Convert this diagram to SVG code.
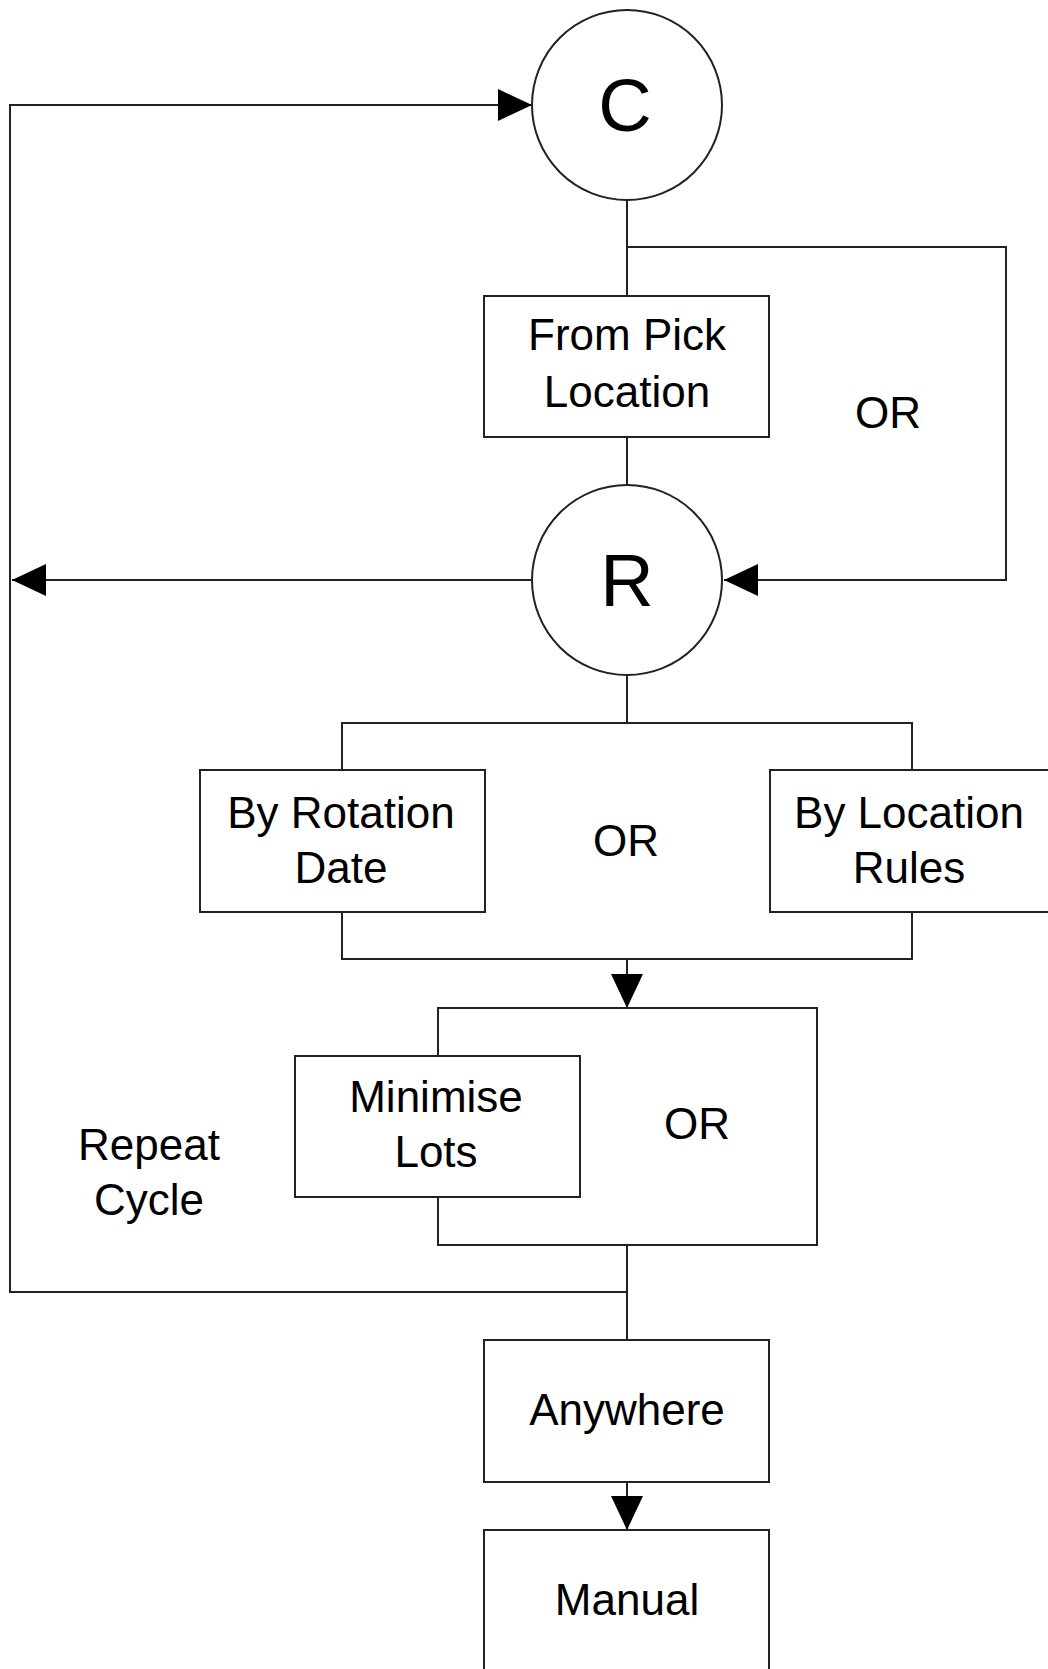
<svg xmlns="http://www.w3.org/2000/svg" width="1048" height="1669" viewBox="0 0 1048 1669">
<style>
.shape{fill:#fff;stroke:#222;stroke-width:2}
.conn{fill:none;stroke:#222;stroke-width:2}
.t{font-family:"Liberation Sans",Arial,sans-serif;font-size:44px;fill:#000;text-anchor:middle}
.big{font-size:74px}
</style>
<defs>
<marker id="arr" viewBox="0 0 34 32" refX="34" refY="16" markerWidth="34" markerHeight="32" orient="auto" markerUnits="userSpaceOnUse">
<path d="M0,0 L34,16 L0,32 z" fill="#000"/>
</marker>
</defs>
<rect width="1048" height="1669" fill="#fff"/>
<g id="connectors">
<path class="conn" d="M627,1292 H10 V105 H532" marker-end="url(#arr)"/>
<path class="conn" d="M627,200 V296"/>
<path class="conn" d="M627,247 H1006 V580 H724" marker-end="url(#arr)"/>
<path class="conn" d="M627,437 V485"/>
<path class="conn" d="M532,580 H12" marker-end="url(#arr)"/>
<path class="conn" d="M627,675 V723"/>
<path class="conn" d="M342,770 V723 H912 V770"/>
<path class="conn" d="M342,912 V959 H912 V912"/>
<path class="conn" d="M627,959 V1008" marker-end="url(#arr)"/>
<path class="conn" d="M627,1245 V1340"/>
<path class="conn" d="M627,1482 V1530" marker-end="url(#arr)"/>
</g>
<g id="node-C">
<circle class="shape" cx="627" cy="105" r="95"/>
<text class="t big" x="625" y="131">C</text>
</g>
<g id="node-from-pick">
<rect class="shape" x="484" y="296" width="285" height="141"/>
<text class="t" x="627" y="350">From Pick</text>
<text class="t" x="627" y="407">Location</text>
</g>
<g id="label-or-1">
<text class="t" x="888" y="428">OR</text>
</g>
<g id="node-R">
<circle class="shape" cx="627" cy="580" r="95"/>
<text class="t big" x="627" y="606">R</text>
</g>
<g id="node-rotation">
<rect class="shape" x="200" y="770" width="285" height="142"/>
<text class="t" x="341" y="828">By Rotation</text>
<text class="t" x="341" y="883">Date</text>
</g>
<g id="label-or-2">
<text class="t" x="626" y="856">OR</text>
</g>
<g id="node-location-rules">
<rect class="shape" x="770" y="770" width="285" height="142"/>
<text class="t" x="909" y="828">By Location</text>
<text class="t" x="909" y="883">Rules</text>
</g>
<g id="node-or-box">
<rect class="shape" x="438" y="1008" width="379" height="237"/>
<text class="t" x="697" y="1139">OR</text>
</g>
<g id="node-minimise">
<rect class="shape" x="295" y="1056" width="285" height="141"/>
<text class="t" x="436" y="1112">Minimise</text>
<text class="t" x="436" y="1167">Lots</text>
</g>
<g id="label-repeat">
<text class="t" x="149" y="1160">Repeat</text>
<text class="t" x="149" y="1215">Cycle</text>
</g>
<g id="node-anywhere">
<rect class="shape" x="484" y="1340" width="285" height="142"/>
<text class="t" x="627" y="1425">Anywhere</text>
</g>
<g id="node-manual">
<rect class="shape" x="484" y="1530" width="285" height="142"/>
<text class="t" x="627" y="1615">Manual</text>
</g>
</svg>
